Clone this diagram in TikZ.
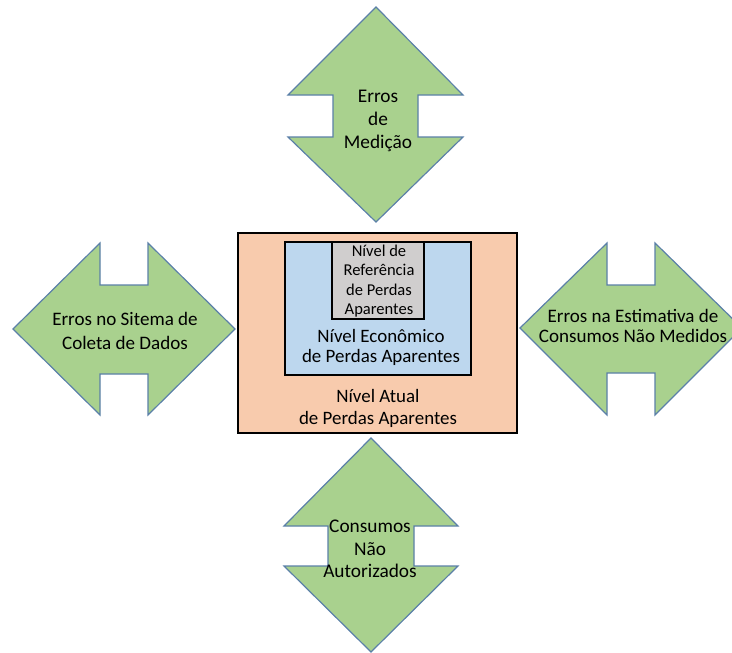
\documentclass[tikz,border=0pt]{standalone}
\usepackage{fontspec}
\setmainfont{Carlito}
\definecolor{arrowgreen}{HTML}{A9D18E}
\definecolor{arrowline}{HTML}{5B80A8}
\definecolor{orangebox}{HTML}{F8CBAD}
\definecolor{bluebox}{HTML}{BDD7EE}
\definecolor{graybox}{HTML}{D0CECE}
\tikzset{
  bigarrow/.style={fill=arrowgreen, draw=arrowline, line width=0.9pt, line join=miter},
  levelbox/.style={draw=black, line width=2pt},
  lbl/.style={align=center, inner sep=0pt}
}
\begin{document}
\begin{tikzpicture}[x=0.75pt, y=-0.75pt]
\useasboundingbox (0,0) rectangle (732,653);
\clip (0,0) rectangle (732,653);
% top arrow
\draw[bigarrow] (376,7) -- (463,95) -- (418,95) -- (418,137) -- (463,137) -- (376,222)
  -- (288,137) -- (333,137) -- (333,95) -- (288,95) -- cycle;
% bottom arrow
\draw[bigarrow] (371,438) -- (458,526) -- (414,526) -- (414,566) -- (458,566) -- (371,652)
  -- (284,566) -- (328,566) -- (328,526) -- (284,526) -- cycle;
% left arrow
\draw[bigarrow] (13,329) -- (100,243) -- (100,285) -- (148,285) -- (148,243) -- (235,329)
  -- (148,415) -- (148,374) -- (100,374) -- (100,415) -- cycle;
% right arrow
\draw[bigarrow] (520,328) -- (607,243) -- (607,285) -- (655,285) -- (655,243) -- (742,328)
  -- (655,415) -- (655,373) -- (607,373) -- (607,415) -- cycle;
% boxes
\draw[levelbox, fill=orangebox] (238,233) rectangle (517,433);
\draw[levelbox, fill=bluebox] (285,242) rectangle (471,375);
\draw[levelbox, fill=graybox] (332,242) rectangle (424,319);
% texts
\node[lbl, font=\fontsize{12.4}{14.6}\selectfont] (ref) at (379,281) {Nível de\\Referência\\de Perdas\\Aparentes};
\node[lbl, font=\fontsize{14.2}{15}\selectfont] (eco) at (381,347) {Nível Econômico\\de Perdas Aparentes};
\node[lbl, font=\fontsize{14.2}{16.5}\selectfont] (atual) at (378,408) {Nível Atual\\de Perdas Aparentes};
\node[lbl, font=\fontsize{14.5}{17}\selectfont] (med) at (378,121) {Erros\\de\\Medição};
\node[lbl, font=\fontsize{14.5}{17}\selectfont] (naut) at (370,549) {Consumos\\Não\\Autorizados};
\node[lbl, font=\fontsize{14.3}{18}\selectfont] (coleta) at (125,331) {Erros no Sitema de\\Coleta de Dados};
\node[lbl, font=\fontsize{14.3}{15}\selectfont] (estim) at (633,326) {Erros na Estimativa de\\Consumos Não Medidos};
\end{tikzpicture}
\end{document}
